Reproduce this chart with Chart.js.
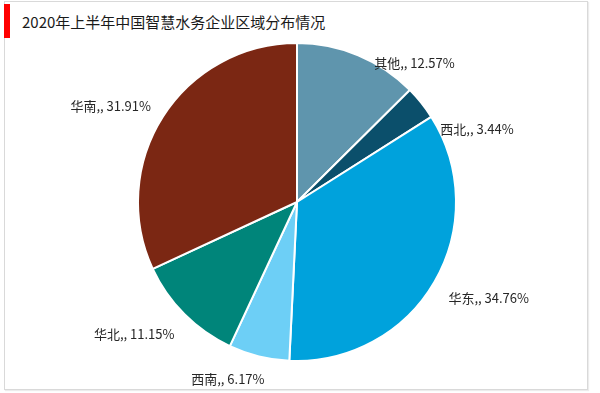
<!DOCTYPE html>
<html>
<head>
<meta charset="utf-8">
<script src="https://cdn.jsdelivr.net/npm/chart.js@4/dist/chart.umd.min.js"></script>
<style>

    html, body {
        margin: 0;
        padding: 0;
        background: #ffffff;
    }

    #stage {
        position: relative;
        width: 600px;
        height: 393px;
        overflow: hidden;
        font-family: "Noto Sans CJK SC", "Noto Sans", sans-serif;
    }

    #frame {
        position: absolute;
        left: 4px;
        top: 1px;
        width: 582px;
        height: 387px;
        border: 1px solid #d9d9d9;
        box-shadow: 1px 1px 1px #ececec;
    }

    #redBar {
        position: absolute;
        left: 4px;
        top: 4px;
        width: 6px;
        height: 34px;
        background: #ff0000;
    }

    #title {
        position: absolute;
        left: 22px;
        top: 12px;
        font-size: 15px;
        line-height: 20px;
        color: #1a1a1a;
        white-space: nowrap;
    }

    #chart {
        position: absolute;
        left: 0;
        top: 0;
    }

</style>
</head>
<body>

<div id="stage">
    <div id="frame"></div>
    <div id="redBar"></div>
    <div id="title">2020年上半年中国智慧水务企业区域分布情况</div>
    <canvas id="chart" width="600" height="393"></canvas>
</div>

<script>

/*
============================================================
Data
============================================================
*/

const regions = ["其他", "西北", "华东", "西南", "华北", "华南"];

const shares = [12.57, 3.44, 34.76, 6.17, 11.15, 31.91];

const sliceColors = [
    "#5f95ad",
    "#0b4f6b",
    "#00a2dc",
    "#6dcff6",
    "#00857a",
    "#7b2713"
];

/*
============================================================
Label placement (offset from slice edge, text alignment)
============================================================
*/

const labelNudge = [
    [16, 8, "left"],
    [19, 26, "left"],
    [14, 16, "left"],
    [-31, 23, "center"],
    [-10, 20, "right"],
    [-12, -10, "right"]
];

/*
============================================================
Outside Labels Plugin
============================================================
*/

const outsideLabels = {

    id: "outsideLabels",

    afterDatasetsDraw(chart) {

        const ctx = chart.ctx;

        const meta = chart.getDatasetMeta(0);

        ctx.save();

        ctx.font = "13px 'Noto Sans CJK SC', sans-serif";

        ctx.fillStyle = "#262626";

        ctx.textBaseline = "middle";

        meta.data.forEach((arc, i) => {

            const p = arc.getProps(
                ["x", "y", "startAngle", "endAngle", "outerRadius"],
                true
            );

            const mid = (p.startAngle + p.endAngle) / 2;

            const ex = p.x + Math.cos(mid) * p.outerRadius;

            const ey = p.y + Math.sin(mid) * p.outerRadius;

            const nudge = labelNudge[i];

            ctx.textAlign = nudge[2];

            ctx.fillText(
                regions[i] + ",, " + shares[i].toFixed(2) + "%",
                ex + nudge[0],
                ey + nudge[1]
            );

        });

        ctx.restore();

    }

};

/*
============================================================
Chart
============================================================
*/

new Chart(

    document.getElementById("chart"),

    {

        type: "pie",

        data: {

            labels: regions,

            datasets: [

                {

                    data: shares,

                    backgroundColor: sliceColors,

                    borderColor: "#ffffff",

                    borderWidth: 2

                }

            ]

        },

        options: {

            responsive: false,

            animation: false,

            layout: {

                padding: {
                    top: 42,
                    bottom: 31,
                    left: 0,
                    right: 6
                }

            },

            plugins: {

                legend: { display: false },

                tooltip: { enabled: false }

            }

        },

        plugins: [outsideLabels]

    }

);

</script>

</body>
</html>
